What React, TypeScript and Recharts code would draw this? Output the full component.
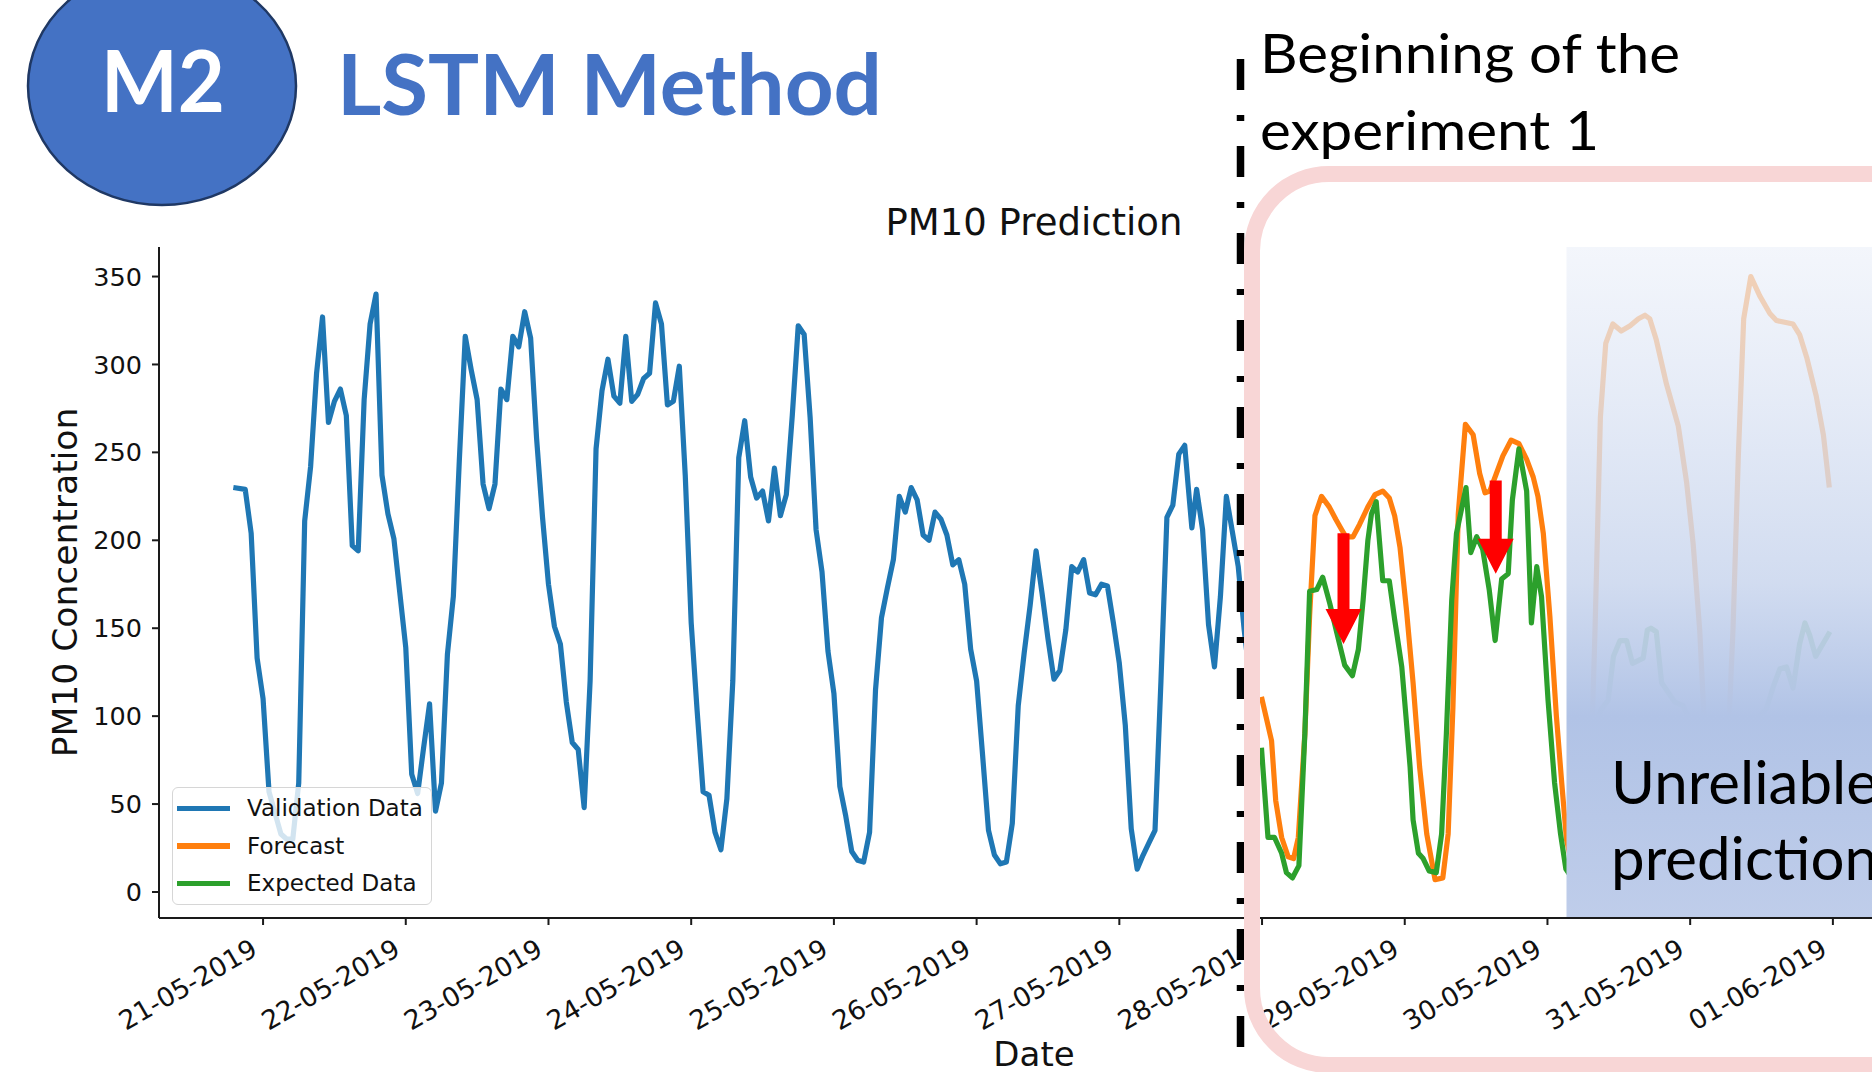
import { Legend, Line, LineChart, ReferenceArea, ReferenceLine, XAxis, YAxis } from "recharts";

// hours counted from 21-05-2019 00:00
const dayTicks = [0, 24, 48, 72, 96, 120, 144, 168, 192, 216, 240, 264];
const dayLabels = [
  "21-05-2019", "22-05-2019", "23-05-2019", "24-05-2019", "25-05-2019", "26-05-2019",
  "27-05-2019", "28-05-2019", "29-05-2019", "30-05-2019", "31-05-2019", "01-06-2019",
];
const pmTicks = [0, 50, 100, 150, 200, 250, 300, 350];

// [hour, PM10]
const validationData: [number, number][] = [
  [-5, 230], [-3, 229], [-2, 204], [-1, 133], [0, 110], [1, 57], [2, 45], [3, 33], [4, 30], [5, 30],
  [6, 62], [7, 211], [8, 242], [9, 295], [10, 327], [11, 267], [12, 279], [13, 286], [14, 271], [15, 197],
  [16, 194], [17, 280], [18, 323], [19, 340], [20, 237], [21, 215], [22, 201], [23, 170], [24, 139], [25, 67],
  [26, 56], [27, 82], [28, 107], [29, 46], [30, 62], [31, 135], [32, 168], [33, 245], [34, 316], [35, 297],
  [36, 280], [37, 232], [38, 218], [39, 232], [40, 286], [41, 280], [42, 316], [43, 310], [44, 330], [45, 315],
  [46, 258], [47, 213], [48, 175], [49, 151], [50, 141], [51, 108], [52, 85], [53, 81], [54, 48], [55, 120],
  [56, 252], [57, 285], [58, 303], [59, 282], [60, 278], [61, 316], [62, 279], [63, 283], [64, 292], [65, 295],
  [66, 335], [67, 323], [68, 277], [69, 279], [70, 299], [71, 237], [72, 153], [73, 103], [74, 57], [75, 55],
  [76, 34], [77, 24], [78, 53], [79, 120], [80, 247], [81, 268], [82, 236], [83, 224], [84, 228], [85, 211],
  [86, 241], [87, 214], [88, 226], [89, 271], [90, 322], [91, 317], [92, 270], [93, 206], [94, 182], [95, 137],
  [96, 113], [97, 60], [98, 43], [99, 23], [100, 18], [101, 17], [102, 34], [103, 115], [104, 156], [105, 173],
  [106, 189], [107, 225], [108, 216], [109, 230], [110, 223], [111, 203], [112, 200], [113, 216], [114, 212], [115, 203],
  [116, 186], [117, 189], [118, 175], [119, 138], [120, 120], [121, 78], [122, 35], [123, 21], [124, 16], [125, 17],
  [126, 39], [127, 106], [128, 136], [129, 163], [130, 194], [131, 170], [132, 144], [133, 121], [134, 126], [135, 149],
  [136, 185], [137, 182], [138, 189], [139, 170], [140, 169], [141, 175], [142, 174], [143, 153], [144, 130], [145, 95],
  [146, 36], [147, 13], [148, 21], [149, 28], [150, 35], [151, 120], [152, 213], [153, 220], [154, 249], [155, 254],
  [155.6, 230], [156.2, 207], [157, 229], [158, 206], [159, 152], [160, 128], [161, 168], [162, 225], [163, 205], [164, 185],
  [165, 149], [166, 120],
];

const forecastData: [number, number][] = [
  [167.9, 111], [169.6, 86], [170.3, 52], [171.3, 31], [172.4, 20], [173.3, 19], [174.1, 31], [175.2, 90],
  [176.0, 157], [176.9, 214], [178.0, 225], [179.3, 219], [180.4, 212], [181.4, 206], [182.1, 202], [183.3, 202],
  [184.4, 209], [185.8, 219], [187.0, 226], [188.3, 228], [189.4, 224], [190.3, 214], [191.2, 196], [192.3, 160],
  [193.4, 119], [194.5, 71], [195.7, 33], [197.1, 7], [198.4, 8], [199.3, 33], [200.1, 105], [201.0, 215],
  [202.2, 266], [203.5, 260], [204.6, 238], [205.5, 227], [206.3, 228], [207.3, 237], [208.5, 248], [209.9, 257],
  [211.2, 255], [212.5, 246], [213.6, 236], [214.4, 225], [215.3, 204], [216.4, 157], [217.5, 100], [218.4, 62],
  [219.2, 30], [220.2, 14], [221.2, 10], [222.2, 18], [223.0, 50], [223.4, 82], [224.0, 149], [224.9, 270],
  [225.8, 312], [227.0, 323], [228.4, 319], [229.9, 322], [231.3, 326], [232.4, 328], [233.2, 326], [234.3, 314],
  [236.0, 289], [238.0, 265], [239.4, 233], [240.5, 198], [241.6, 149], [242.5, 87], [243.5, 40], [244.5, 14],
  [245.5, 22], [246.4, 87], [247.2, 149], [248.1, 248], [249.0, 326], [250.2, 350], [251.7, 339], [253.4, 329],
  [254.5, 325], [255.9, 324], [257.3, 323], [258.4, 317], [259.6, 304], [261.2, 282], [262.4, 260], [263.4, 230],
];

const expectedData: [number, number][] = [
  [167.9, 82], [169.0, 31], [170.1, 31], [171.3, 22], [172.1, 11], [173.1, 8], [174.2, 15], [175.2, 90],
  [176.0, 171], [177.2, 172], [178.2, 179], [179.4, 164], [180.6, 147], [181.9, 129], [183.2, 123], [184.2, 138],
  [185.0, 166], [185.8, 200], [186.4, 215], [187.2, 222], [188.3, 177], [189.4, 177], [190.3, 155], [191.5, 128],
  [192.2, 100], [192.9, 71], [193.4, 41], [194.3, 22], [195.1, 19], [196.1, 12], [197.3, 11], [198.2, 33],
  [199.0, 90], [199.9, 166], [200.7, 204], [202.3, 230], [203.1, 193], [204.1, 202], [205.1, 195], [206.2, 172],
  [207.2, 143], [208.3, 178], [209.4, 181], [210.1, 223], [211.2, 252], [212.5, 228], [213.3, 153], [214.2, 185],
  [215.0, 168], [216.1, 109], [217.2, 62], [218.2, 33], [219.1, 13], [220.1, 8], [221.1, 10], [222.1, 35],
  [223.1, 82], [224.2, 97], [225.1, 104], [226.2, 109], [227.1, 134], [228.2, 143], [229.3, 143], [230.3, 130],
  [232.1, 133], [232.8, 149], [233.4, 150], [234.3, 148], [235.2, 119], [236.6, 112], [237.4, 108], [238.8, 106],
  [240.0, 97], [241.5, 85], [243.0, 40], [244.5, 15], [245.5, 30], [246.4, 82], [248.9, 96], [250.6, 97],
  [252.8, 104], [254.0, 117], [255.1, 127], [256.2, 128], [257.3, 116], [258.4, 141], [259.3, 153], [260.1, 146],
  [261.1, 134], [263.5, 148],
];

const seriesNames = ["Validation Data", "Forecast", "Expected Data"];
const seriesColors = ["#1f77b4", "#ff7f0e", "#2ca02c"];

// forecast after this hour is covered by the "unreliable" band
const unreliableFrom = 219.2;
// red down-arrows: hour, top value, tip value
const arrows = [
  { h: 181.7, from: 204, to: 141 },
  { h: 207.3, from: 234, to: 181 },
];

const xDomain: [number, number] = [-17.5, 276.8];
const yDomain: [number, number] = [-14.8, 366.8];

const toRows = (pts: [number, number][]) => pts.map(([h, v]) => ({ h, v }));

const FONT = "DejaVu Sans";
const SLIDE_FONT = "Lato, 'Open Sans', sans-serif";
const spine = { stroke: "#1a1a1a", strokeWidth: 2 };

function DateTick(props: any) {
  const { x, y, payload } = props;
  const label = dayLabels[dayTicks.indexOf(payload.value)] ?? "";
  const ax = x - 4;
  const ay = y + 29;
  return (
    <text
      x={ax}
      y={ay}
      transform={`rotate(-30, ${ax}, ${ay})`}
      textAnchor="end"
      fontSize={26.5}
      fontFamily={FONT}
      fill="#111"
    >
      {label}
    </text>
  );
}

function YTitle(props: any) {
  const vb = props.viewBox ?? { x: 0, y: 247, width: 159, height: 671 };
  const x = vb.x + 77;
  const y = vb.y + vb.height / 2;
  return (
    <text x={x} y={y} transform={`rotate(-90, ${x}, ${y})`} textAnchor="middle" fontSize={34.5} fontFamily={FONT} fill="#111">
      PM10 Concentration
    </text>
  );
}

function arrowShape(p: any) {
  const { x1, y1, x2, y2 } = p;
  if (![x1, y1, x2, y2].every((n) => Number.isFinite(n))) return <g />;
  const cx = (x1 + x2) / 2;
  const top = Math.min(y1, y2);
  const tip = Math.max(y1, y2);
  const neck = tip - 35;
  const pts = [
    [cx - 6, top], [cx + 6, top], [cx + 6, neck], [cx + 18, neck],
    [cx, tip], [cx - 18, neck], [cx - 6, neck],
  ];
  return <polygon points={pts.map((q) => q.join(",")).join(" ")} fill="#ff0000" />;
}

function LegendBox() {
  return (
    <div
      style={{
        position: "relative",
        width: 260,
        height: 118,
        boxSizing: "border-box",
        border: "1.5px solid #d6d6d6",
        borderRadius: 6,
        background: "rgba(255,255,255,0.8)",
        fontFamily: FONT,
        fontSize: 23,
        color: "#111",
      }}
    >
      {seriesNames.map((name, i) => (
        <div key={name} style={{ position: "absolute", left: 0, top: 20 + i * 37.5 - 15, height: 30, width: "100%" }}>
          <div style={{ position: "absolute", left: 4, top: 12.5, width: 53, height: 5.5, background: seriesColors[i] }} />
          <div style={{ position: "absolute", left: 74, top: 0, lineHeight: "30px", whiteSpace: "nowrap" }}>{name}</div>
        </div>
      ))}
    </div>
  );
}

export default function App() {
  const series = [validationData, forecastData, expectedData];
  return (
    <div
      style={{
        position: "fixed",
        left: 0,
        top: 0,
        width: 1872,
        height: 1072,
        overflow: "hidden",
        background: "#fff",
      }}
    >
      <div style={{ position: "absolute", left: 0, top: 0 }}>
        <LineChart
          width={1960}
          height={1072}
          margin={{ top: 247, right: 51, bottom: 0, left: 0 }}
          style={{ fontFamily: FONT }}
        >
          <defs>
            <linearGradient id="unreliableFill" x1="0" y1="0" x2="0" y2="1">
              <stop offset="0" stopColor="#eef2fa" stopOpacity={0.7} />
              <stop offset="0.5" stopColor="#cbd7ee" stopOpacity={0.88} />
              <stop offset="0.7" stopColor="#b1c3e6" stopOpacity={1} />
              <stop offset="1" stopColor="#bfcdea" stopOpacity={1} />
            </linearGradient>
          </defs>
          {series.map((pts, i) => (
            <Line
              key={seriesNames[i]}
              data={toRows(pts)}
              dataKey="v"
              name={seriesNames[i]}
              type="linear"
              stroke={seriesColors[i]}
              strokeWidth={5.2}
              strokeLinejoin="round"
              dot={false}
              activeDot={false}
              isAnimationActive={false}
            />
          ))}
          <ReferenceArea
            x1={unreliableFrom}
            x2={xDomain[1]}
            fill="url(#unreliableFill)"
            fillOpacity={1}
            stroke="none"
            ifOverflow="hidden"
            zIndex={450}
          />
          {arrows.map((a) => (
            <ReferenceLine
              key={a.h}
              segment={[
                { x: a.h, y: a.from },
                { x: a.h, y: a.to },
              ]}
              shape={arrowShape}
              ifOverflow="visible"
              zIndex={460}
            />
          ))}
          <XAxis
            xAxisId="top"
            orientation="top"
            type="number"
            domain={xDomain}
            allowDataOverflow
            height={0}
            tick={false}
            tickLine={false}
            axisLine={spine}
          />
          <XAxis
            type="number"
            dataKey="h"
            domain={xDomain}
            allowDataOverflow
            ticks={dayTicks}
            interval={0}
            height={154}
            tickSize={7}
            tickMargin={0}
            tick={(p: any) => <DateTick {...p} />}
            axisLine={spine}
            tickLine={spine}
            label={{ value: "Date", position: "insideBottom", offset: 6, fontSize: 34, fill: "#111", fontFamily: FONT }}
          />
          <YAxis
            type="number"
            domain={yDomain}
            allowDataOverflow
            ticks={pmTicks}
            interval={0}
            width={159}
            tickSize={7}
            tickMargin={10}
            tick={{ fontSize: 25.5, fill: "#111", fontFamily: FONT }}
            axisLine={spine}
            tickLine={spine}
            label={(p: any) => <YTitle {...p} />}
          />
          <Legend
            layout="horizontal"
            align="center"
            verticalAlign="middle"
            content={() => <LegendBox />}
            wrapperStyle={{ left: 172, top: 787, width: 260, height: 118 }}
          />
        </LineChart>
      </div>

      <svg
        width={1872}
        height={1072}
        style={{ position: "absolute", left: 0, top: 0, pointerEvents: "none" }}
      >
        <text x={1034} y={235} textAnchor="middle" fontSize={37} fontFamily={FONT} fill="#111">
          PM10 Prediction
        </text>
        <line x1={1240.5} y1={59} x2={1240.5} y2={1072} stroke="#000" strokeWidth={7.5} strokeDasharray="31 25 6 25" />
        <rect x={1252} y={174} width={720} height={891} rx={77} ry={77} fill="none" stroke="#f8d6d6" strokeWidth={16} />
        <ellipse cx={162} cy={86} rx={134} ry={119} fill="#4472c4" stroke="#1f3864" strokeWidth={2.5} />
        <text x={163} y={112} textAnchor="middle" fontSize={86} fontWeight={700} fontFamily={SLIDE_FONT} fill="#fff" textLength={124} lengthAdjust="spacingAndGlyphs">
          M2
        </text>
        <text x={337} y={115} fontSize={84} fontWeight={700} fontFamily={SLIDE_FONT} fill="#4472c4" textLength={545} lengthAdjust="spacingAndGlyphs">
          LSTM Method
        </text>
        <text x={1260} y={73} fontSize={54} fontFamily={SLIDE_FONT} fill="#000" textLength={420} lengthAdjust="spacingAndGlyphs">
          Beginning of the
        </text>
        <text x={1260} y={150} fontSize={54} fontFamily={SLIDE_FONT} fill="#000" textLength={339} lengthAdjust="spacingAndGlyphs">
          experiment 1
        </text>
        <text x={1611} y={804} fontSize={60} fontFamily={SLIDE_FONT} fill="#000">
          Unreliable
        </text>
        <text x={1611} y={880} fontSize={60} fontFamily={SLIDE_FONT} fill="#000">
          prediction
        </text>
      </svg>
    </div>
  );
}
